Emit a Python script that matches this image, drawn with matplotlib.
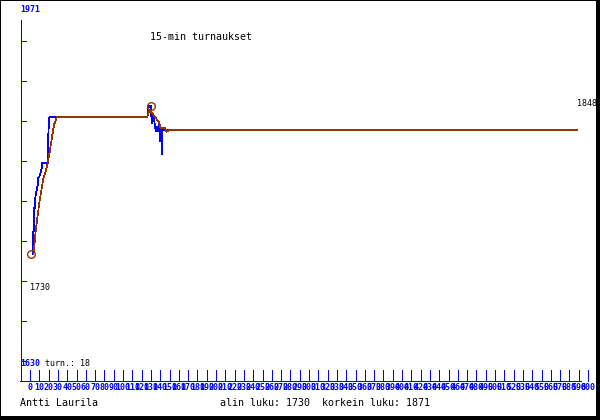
import matplotlib
matplotlib.use("Agg")
import matplotlib.pyplot as plt
from matplotlib.transforms import Affine2D, blended_transform_factory
from matplotlib.patches import Rectangle

# ---------------- data ----------------
price_t = [3.55, 3.55, 4.62, 4.62, 5.70, 5.70, 7.2, 8.92, 8.92, 10.75, 12.58, 12.58,
           19.35, 19.35, 20.75, 126.1, 127.2, 128.3, 129.8, 130.9, 132.0, 133.7,
           135.2, 136.2, 138.0, 139.0, 139.8, 140.9, 141.6, 142.3, 588.2]
price_v = [1730, 1752, 1752, 1774, 1774, 1784, 1791, 1798.6, 1802.4, 1805.2, 1811.9, 1816.6,
           1816.6, 1838.4, 1860, 1860, 1868.7, 1870.6, 1871, 1854.2, 1862.1, 1855.7,
           1846.2, 1851.0, 1846.2, 1855.7, 1836.8, 1849.8, 1824.2, 1848, 1848]
avg_t = [3.76, 6.45, 9.68, 13.98, 17.2, 19.68, 21.5, 23.66, 25.8, 28.7, 126.1,
         128.0, 129.0, 134.4, 139.0, 140.5, 145.2, 147.0, 149.8, 588.2]
avg_v = [1730, 1755.0, 1776.8, 1800.5, 1810.0, 1819.4, 1828.9, 1841.2, 1852.6, 1860, 1860,
         1865.5, 1866.8, 1860.2, 1854.8, 1849.5, 1849.5, 1846.2, 1848, 1848]
min_point = (1.2, 1730)
max_point = (129.8, 1871)
last_value = 1848
y_top, y_bottom = 1971, 1630
x_ticks = list(range(0, 610, 10))
title = "15-min turnaukset"
turns = 18
author = "Antti Laurila"
low_val, high_val = 1730, 1871

BLUE = "#0000ff"
BROWN = "#993300"
LW = 0.5

W, H = 600, 420
fig = plt.figure(figsize=(W / 100, H / 100), dpi=100)
fig.patch.set_facecolor("white")
px = Affine2D().scale(1 / W, -1 / H).translate(0, 1) + fig.transFigure

ax = fig.add_axes([0, 0, 1, 1])
ax.set_axis_off()
# x_px = 30 + 0.93 t ;  y_px = 360 - (v - 1630) * 360 / 341
ax.set_xlim(-30 / 0.93, 570 / 0.93)
ax.set_ylim(y_bottom - 60 * (y_top - y_bottom) / 360, y_top)

crisp = dict(lw=LW, antialiased=False, solid_capstyle="butt")

# axes decoration
ax.plot([20.5, 20.5], [20, 380], color=BLUE, transform=px, **crisp)
ax.plot([20, 581], [380.5, 380.5], color=BLUE, transform=px, **crisp)
for y in range(40, 361, 40):
    ax.plot([20.5, 26], [y + 0.5, y + 0.5], color=BLUE, transform=px, **crisp)
bl = blended_transform_factory(ax.transData, px)
for t in x_ticks:
    ax.plot([t, t], [370, 380.5], color=BLUE, transform=bl, **crisp)
    ax.text(t, 388, str(t), transform=bl, ha="center", va="center", color=BLUE,
            fontsize=6.0, fontweight="bold", family="DejaVu Sans Mono")

# series
ax.plot(price_t, price_v, color=BLUE, solid_joinstyle="miter", **crisp)
ax.plot(avg_t, avg_v, color=BROWN, solid_joinstyle="miter", **crisp)
ax.plot(*min_point, marker="o", ms=5.5, mfc="none", mec=BROWN, mew=1.0)
ax.plot(*max_point, marker="o", ms=5.5, mfc="none", mec=BROWN, mew=1.0)

# texts
mono = "DejaVu Sans Mono"
ax.text(20, 9, str(y_top), transform=px, color=BLUE, fontsize=6.0, fontweight="bold",
        family=mono, va="center", ha="left")
ax.text(20, 364, str(y_bottom), transform=px, color=BLUE, fontsize=6.0, fontweight="bold",
        family=mono, va="center", ha="left")
ax.text(45, 364, f"turn.: {turns}", transform=px, color="black", fontsize=6.0,
        family=mono, va="center", ha="left")
ax.text(150, 37, title, transform=px, color="black", fontsize=7.2, family=mono,
        va="center", ha="left")
ax.text(577, 103, str(last_value), transform=px, color="black", fontsize=6.0,
        family=mono, va="center", ha="left")
ax.text(30, 288, str(low_val), transform=px, color="black", fontsize=6.0,
        family=mono, va="center", ha="left")
ax.text(20, 403, author, transform=px, color="black", fontsize=7.2, family=mono,
        va="center", ha="left")
ax.text(220, 403, f"alin luku: {low_val}  korkein luku: {high_val}", transform=px,
        color="black", fontsize=7.2, family=mono, va="center", ha="left")

# frame
ax.add_patch(Rectangle((0, 0), 597, 417, transform=px, fill=False, ec="black", lw=LW,
                       antialiased=False))
ax.add_patch(Rectangle((597, 0), 3, 420, transform=px, color="black", antialiased=False))
ax.add_patch(Rectangle((0, 417), 600, 3, transform=px, color="black", antialiased=False))

fig.savefig("out.png", dpi=100, facecolor="white")
